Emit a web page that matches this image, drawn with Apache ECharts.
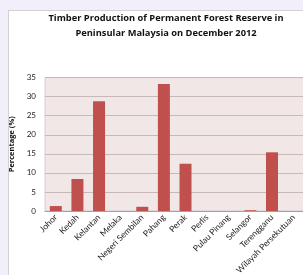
<!DOCTYPE html>
<html>
<head>
<meta charset="utf-8">
<script src="https://cdn.jsdelivr.net/npm/echarts@6/dist/echarts.min.js"></script>
<style>
html,body{margin:0;padding:0;width:303px;height:275px;overflow:hidden;background:#f3effa;}
#frame{position:absolute;left:8px;top:10px;width:300px;height:270px;background:#fff;border-left:1px solid #d2d2d2;border-top:1px solid #d2d2d2;}
#main{position:absolute;left:0;top:0;width:303px;height:275px;}
</style>
</head>
<body>
<div id="frame"></div>
<div id="main"></div>
<script>
// 州名 与 百分比
var states = ['Johor','Kedah','Kelantan','Melaka','Negeri Sembilan','Pahang','Perak','Perlis','Pulau Pinang','Selangor','Terengganu','Wilayah Persekutuan'];
var percent = [1.3, 8.4, 28.8, 0, 1.1, 33.3, 12.4, 0, 0, 0.2, 15.4, 0];
var yTicks = [0, 35, 5];

var myChart = echarts.init(document.getElementById('main'));

var option = {
	title: {
		text: 'Timber Production of Permanent Forest Reserve in\nPeninsular Malaysia on December 2012',
		left: 161,
		textAlign: 'center',
		top: 6,
		textStyle: {
			fontFamily: 'Open Sans',
			fontSize: 9.3,
			fontWeight: 'bold',
			color: '#111',
			lineHeight: 15
		}
	},
	grid: {
		left: 45,
		top: 77.6,
		right: -1.4,
		bottom: 64,
		outerBoundsMode: 'none',
		containLabel: false,
		show: true,
		backgroundColor: '#f2e7e7',
		borderColor: '#cfcfcf',
		borderWidth: 1
	},
	xAxis: {
		type: 'category',
		data: states,
		name: 'Country',
		nameLocation: 'middle',
		nameGap: 47,
		nameTextStyle: {fontFamily: 'Open Sans', fontSize: 8, fontWeight: 'bold', color: '#111'},
		axisTick: {show: false},
		axisLine: {lineStyle: {color: '#a8a0a0'}},
		axisLabel: {
			interval: 0,
			rotate: 45,
			fontFamily: 'Lato',
			fontSize: 8.5,
			color: '#222',
			margin: 5
		}
	},
	yAxis: {
		type: 'value',
		min: yTicks[0],
		max: yTicks[1],
		interval: yTicks[2],
		name: 'Percentage (%)',
		nameLocation: 'middle',
		nameRotate: 90,
		nameGap: 23,
		nameTextStyle: {fontFamily: 'Open Sans', fontSize: 7.5, fontWeight: 'bold', color: '#111'},
		axisLine: {show: false},
		axisTick: {show: false},
		axisLabel: {fontFamily: 'Lato', fontSize: 8, color: '#222', margin: 9},
		splitLine: {lineStyle: {color: '#c9b8b8', width: 1}}
	},
	series: [{
		type: 'bar',
		data: percent,
		barWidth: 12,
		itemStyle: {color: '#c0504d'}
	}]
};

myChart.setOption(option);
</script>
</body>
</html>
